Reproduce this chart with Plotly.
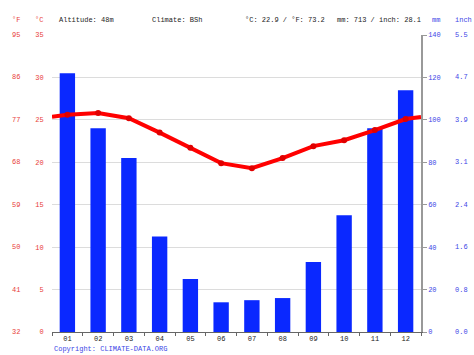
import plotly.graph_objects as go

months = ["01", "02", "03", "04", "05", "06", "07", "08", "09", "10", "11", "12"]
precip_mm = [122, 96, 82, 45, 25, 14, 15, 16, 33, 55, 96, 114]
temp_c = [25.6, 25.8, 25.2, 23.5, 21.7, 19.9, 19.3, 20.5, 21.9, 22.6, 23.8, 25.1]
c_ticks = [0, 5, 10, 15, 20, 25, 30, 35]
mm_ticks = [0, 20, 40, 60, 80, 100, 120, 140]

header_texts = ["Altitude: 48m", "Climate: BSh", "°C: 22.9 / °F: 73.2", "mm: 713 / inch: 28.1"]

FONT = "Liberation Mono"
FS = 7
RED = "#e8403a"
BLUE = "#3c46e6"
BAR = "#0a28ff"

W, H = 474, 355
l, r, t, b = 52, 53, 35, 23
pw, ph = W - l - r, H - t - b


def px(x):
    return (x - l) / pw


def py(y):
    return 1 - (y - t) / ph


xs = list(range(len(months)))
edge = (temp_c[0] + temp_c[-1]) / 2
line_x = [-0.5] + xs + [len(months) - 0.5]
line_y = [edge] + temp_c + [edge]

fig = go.Figure()
fig.add_trace(go.Bar(x=xs, y=precip_mm, marker=dict(color=BAR, line=dict(width=0)),
                     width=0.5, yaxis="y", hoverinfo="y"))
fig.add_trace(go.Scatter(x=line_x, y=line_y, mode="lines", line=dict(color="#ff0000", width=4),
                         yaxis="y2", hoverinfo="skip"))
fig.add_trace(go.Scatter(x=xs, y=temp_c, mode="markers", marker=dict(color="#e00000", size=6),
                         yaxis="y2"))

fig.update_layout(
    width=W, height=H,
    margin=dict(l=l, r=r, t=t, b=b),
    paper_bgcolor="white", plot_bgcolor="white",
    showlegend=False,
    font=dict(family=FONT, size=FS),
    xaxis=dict(range=[-0.5, 11.5], tickvals=xs, ticktext=months, ticks="",
               showgrid=False, zeroline=False, showline=True, linecolor="#666", linewidth=1,
               tickfont=dict(color="#222", size=FS, family=FONT),
               minor=dict(tick0=-0.5, dtick=1, ticks="outside", ticklen=3, tickcolor="#666")),
    yaxis=dict(range=[0, 140], tickvals=mm_ticks, side="right", showgrid=True, gridcolor="#dcdcdc",
               zeroline=False, showline=True, linecolor="#999", linewidth=1.5,
               ticks="outside", ticklen=4, tickcolor="#999",
               tickfont=dict(color=BLUE, size=FS, family=FONT)),
    yaxis2=dict(range=[0, 35], tickvals=c_ticks, side="left", overlaying="y", showgrid=False,
                zeroline=False, showline=False, ticks="outside", ticklen=6, tickcolor="rgba(0,0,0,0)",
                tickfont=dict(color=RED, size=FS, family=FONT)),
)

# °F column
for c in c_ticks:
    f = round(c * 9 / 5 + 32)
    fig.add_annotation(x=0, xref="paper", xshift=-30, y=c, yref="y2", text=str(f),
                       showarrow=False, xanchor="right", font=dict(color=RED, size=FS, family=FONT))
# inch column
for m in mm_ticks:
    fig.add_annotation(x=1, xref="paper", xshift=32, y=m, yref="y", text=f"{m/25.4:.1f}",
                       showarrow=False, xanchor="left", font=dict(color=BLUE, size=FS, family=FONT))

hdr_y = 20
fig.add_annotation(x=px(22), y=py(hdr_y), xref="paper", yref="paper", text="°F", showarrow=False,
                   xanchor="right", yanchor="middle", font=dict(color=RED, size=FS, family=FONT))
fig.add_annotation(x=px(45), y=py(hdr_y), xref="paper", yref="paper", text="°C", showarrow=False,
                   xanchor="right", yanchor="middle", font=dict(color=RED, size=FS, family=FONT))
for xpos, txt in zip([57, 150, 243, 335], header_texts):
    fig.add_annotation(x=px(xpos), y=py(hdr_y), xref="paper", yref="paper", text=txt, showarrow=False,
                       xanchor="left", yanchor="middle", font=dict(color="#222", size=FS, family=FONT))
fig.add_annotation(x=px(430), y=py(hdr_y), xref="paper", yref="paper", text="mm", showarrow=False,
                   xanchor="left", yanchor="middle", font=dict(color=BLUE, size=FS, family=FONT))
fig.add_annotation(x=px(453), y=py(hdr_y), xref="paper", yref="paper", text="inch", showarrow=False,
                   xanchor="left", yanchor="middle", font=dict(color=BLUE, size=FS, family=FONT))
fig.add_annotation(x=px(52), y=py(349), xref="paper", yref="paper", text="Copyright: CLIMATE-DATA.ORG",
                   showarrow=False, xanchor="left", yanchor="middle",
                   font=dict(color=BLUE, size=FS, family=FONT))

fig.write_html("out.html", config={"displayModeBar": False},
               post_script="document.body.style.margin='0';document.body.style.overflow='hidden';")
